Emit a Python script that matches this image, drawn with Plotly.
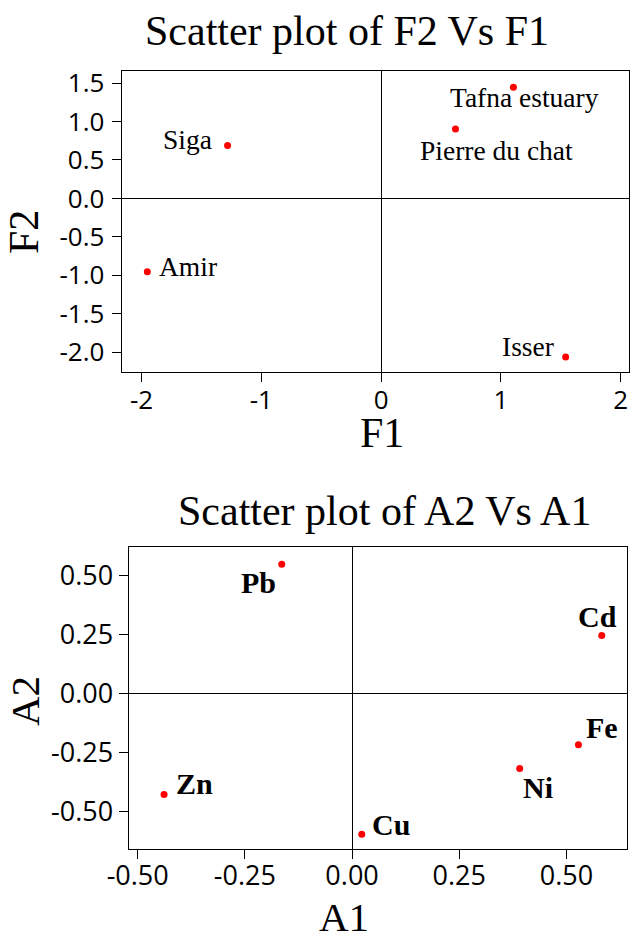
import plotly.graph_objects as go

# ---- data: top chart (sites) ----
site_names = ["Tafna estuary", "Pierre du chat", "Siga", "Amir", "Isser"]
site_f1 = [1.105, 0.621, -1.282, -1.952, 1.541]
site_f2 = [1.445, 0.902, 0.688, -0.954, -2.063]
f1_ticks = [-2, -1, 0, 1, 2]
f2_ticks = [1.5, 1.0, 0.5, 0.0, -0.5, -1.0, -1.5, -2.0]
f2_ticklabels = ["1.5", "1.0", "0.5", "0.0", "-0.5", "-1.0", "-1.5", "-2.0"]

# ---- data: bottom chart (metals) ----
metal_names = ["Pb", "Zn", "Cd", "Fe", "Ni", "Cu"]
metal_a1 = [-0.164, -0.4385, 0.5824, 0.528, 0.391, 0.0226]
metal_a2 = [0.549, -0.426, 0.247, -0.215, -0.316, -0.594]
a_ticks = [-0.5, -0.25, 0.0, 0.25, 0.5]
a_ticklabels = ["-0.50", "-0.25", "0.00", "0.25", "0.50"]

# ---- label offsets (pixels, style only) ----
site_label_dx = [11, 41, -40, 41, -38]
site_label_dy = [-10.5, -21.5, 6.5, 5.5, 10]
metal_label_dx = [-23, 30, -4, 24, 18, 29]
metal_label_dy = [-18, 11.5, 19.5, 17.5, -19, 10]

W, H = 630, 936
SERIF = "Liberation Serif, Times New Roman, serif"
SANS = "Open Sans, Noto Sans, sans-serif"

fig = go.Figure()
fig.add_trace(go.Scatter(x=site_f1, y=site_f2, mode="markers",
                         marker=dict(color="#ff0000", size=7),
                         xaxis="x", yaxis="y", showlegend=False))
fig.add_trace(go.Scatter(x=metal_a1, y=metal_a2, mode="markers",
                         marker=dict(color="#ff0000", size=7),
                         xaxis="x2", yaxis="y2", showlegend=False))

annotations = []
for name, x, y, dx, dy in zip(site_names, site_f1, site_f2, site_label_dx, site_label_dy):
    annotations.append(dict(x=x, y=y, xref="x", yref="y", text=name, showarrow=False,
                            xshift=dx, yshift=dy, xanchor="center", yanchor="middle",
                            font=dict(family=SERIF, size=27.5, color="black")))
for name, x, y, dx, dy in zip(metal_names, metal_a1, metal_a2, metal_label_dx, metal_label_dy):
    annotations.append(dict(x=x, y=y, xref="x2", yref="y2", text="<b>" + name + "</b>", showarrow=False,
                            xshift=dx, yshift=dy, xanchor="center", yanchor="middle",
                            font=dict(family=SERIF, size=30, color="black")))

# titles and axis titles
def txt(text, px, py, size, angle=0):
    return dict(x=px / W, y=1 - py / H, xref="paper", yref="paper", text=text,
                showarrow=False, xanchor="center", yanchor="middle", textangle=angle,
                font=dict(family=SERIF, size=size, color="black"))

annotations += [
    txt("Scatter plot of F2 Vs F1", 347, 31, 42),
    txt("F1", 381.5, 433, 42),
    txt("F2", 24, 232, 42, -90),
    txt("Scatter plot of A2 Vs A1", 384, 511, 42),
    txt("A1", 344, 917, 41),
    txt("A2", 25, 701, 41, -90),
]

axis_common = dict(showline=True, linecolor="black", linewidth=1.3, mirror=True,
                   showgrid=False, zeroline=True, zerolinecolor="black", zerolinewidth=1.2,
                   ticks="outside", ticklen=9, tickwidth=1.3, tickcolor="black",
                   automargin=False)

fig.update_layout(
    width=W, height=H,
    margin=dict(l=0, r=0, t=0, b=0, pad=0, autoexpand=False),
    paper_bgcolor="white", plot_bgcolor="white",
    showlegend=False,
    xaxis=dict(domain=[121.7 / W, 629 / W], range=[-2.166, 2.07], anchor="y",
               tickvals=f1_ticks, ticktext=[str(v) for v in f1_ticks], ticklabelstandoff=-5,
               tickfont=dict(family=SANS, size=26, color="black"), **axis_common),
    yaxis=dict(domain=[1 - 372.3 / H, 1 - 71 / H], range=[-2.263, 1.658], anchor="x",
               tickvals=f2_ticks, ticktext=f2_ticklabels, ticklabelstandoff=2,
               tickfont=dict(family=SANS, size=26, color="black"), **axis_common),
    xaxis2=dict(domain=[128.7 / W, 627.3 / W], range=[-0.521, 0.642], anchor="y2",
                tickvals=a_ticks, ticktext=a_ticklabels, ticklabelstandoff=-7,
                tickfont=dict(family=SANS, size=27, color="black"), **axis_common),
    yaxis2=dict(domain=[1 - 849.3 / H, 1 - 547.3 / H], range=[-0.658, 0.621], anchor="x2",
                tickvals=a_ticks[::-1], ticktext=a_ticklabels[::-1],
                tickfont=dict(family=SANS, size=27, color="black"), **axis_common),
    annotations=annotations,
)

fig.write_html("out.html", config={"displayModeBar": False},
               post_script="document.body.style.margin='0';document.body.style.overflow='hidden';")
